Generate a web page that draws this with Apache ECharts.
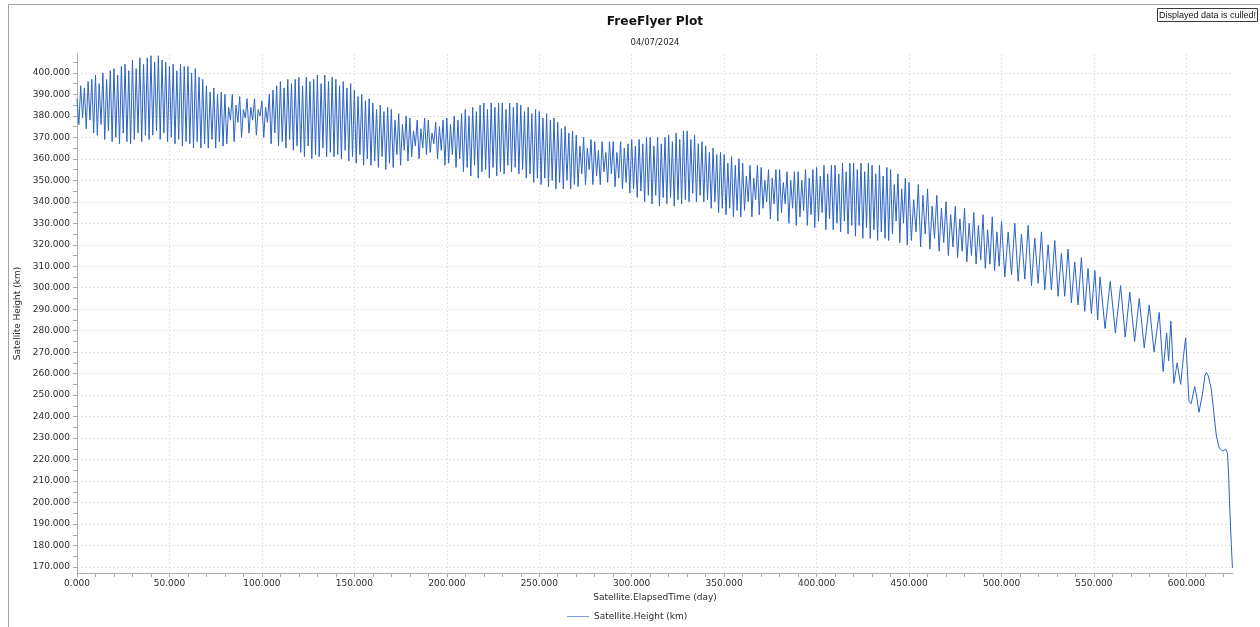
<!DOCTYPE html>
<html>
<head>
<meta charset="utf-8">
<title>FreeFlyer Plot</title>
<script src="https://cdn.jsdelivr.net/npm/echarts@6/dist/echarts.min.js"></script>
<style>
  html, body { margin: 0; padding: 0; background: #ffffff; }
  #chart { width: 1260px; height: 627px; }
</style>
</head>
<body>
<div id="chart"></div>
<script>
// Satellite height history, daily samples for the first 450 days
const dayPhase1 = [
  0,1,2,3,4,5,6,7,8,9, 10,11,12,13,14,15,16,17,18,19,
  20,21,22,23,24,25,26,27,28,29, 30,31,32,33,34,35,36,37,38,39,
  40,41,42,43,44,45,46,47,48,49, 50,51,52,53,54,55,56,57,58,59,
  60,61,62,63,64,65,66,67,68,69, 70,71,72,73,74,75,76,77,78,79,
  80,81,82,83,84,85,86,87,88,89, 90,91,92,93,94,95,96,97,98,99,
  100,101,102,103,104,105,106,107,108,109, 110,111,112,113,114,115,116,117,118,119,
  120,121,122,123,124,125,126,127,128,129, 130,131,132,133,134,135,136,137,138,139,
  140,141,142,143,144,145,146,147,148,149, 150,151,152,153,154,155,156,157,158,159,
  160,161,162,163,164,165,166,167,168,169, 170,171,172,173,174,175,176,177,178,179,
  180,181,182,183,184,185,186,187,188,189, 190,191,192,193,194,195,196,197,198,199,
  200,201,202,203,204,205,206,207,208,209, 210,211,212,213,214,215,216,217,218,219,
  220,221,222,223,224,225,226,227,228,229, 230,231,232,233,234,235,236,237,238,239,
  240,241,242,243,244,245,246,247,248,249, 250,251,252,253,254,255,256,257,258,259,
  260,261,262,263,264,265,266,267,268,269, 270,271,272,273,274,275,276,277,278,279,
  280,281,282,283,284,285,286,287,288,289, 290,291,292,293,294,295,296,297,298,299,
  300,301,302,303,304,305,306,307,308,309, 310,311,312,313,314,315,316,317,318,319,
  320,321,322,323,324,325,326,327,328,329, 330,331,332,333,334,335,336,337,338,339,
  340,341,342,343,344,345,346,347,348,349, 350,351,352,353,354,355,356,357,358,359,
  360,361,362,363,364,365,366,367,368,369, 370,371,372,373,374,375,376,377,378,379,
  380,381,382,383,384,385,386,387,388,389, 390,391,392,393,394,395,396,397,398,399,
  400,401,402,403,404,405,406,407,408,409, 410,411,412,413,414,415,416,417,418,419,
  420,421,422,423,424,425,426,427,428,429, 430,431,432,433,434,435,436,437,438,439,
  440,441,442,443,444,445,446,447,448,449
];
const heightPhase1 = [
  388,376,394,379,393,374,396,378,397,372, 399,371,395,376,400,369,397,373,401,368,
  402,370,399,367,403,372,404,368,401,367, 406,369,402,372,407,368,404,371,407,369,
  408,371,405,373,408,369,406,372,405,368, 403,370,404,367,401,369,404,366,403,368,
  403,367,400,365,402,368,398,365,397,367, 394,365,391,369,393,365,390,368,391,366,
  390,367,384,378,390,368,385,377,389,370, 383,379,388,372,384,378,388,371,383,380,
  387,370,384,377,390,367,392,372,394,366, 396,368,393,365,397,369,395,364,397,366,
  398,363,394,361,398,366,396,360,397,362, 399,361,395,365,399,361,396,363,398,361,
  397,362,394,360,396,364,393,359,395,361, 392,358,389,362,390,357,387,360,388,357,
  386,359,383,356,385,361,382,355,384,358, 383,356,378,362,381,357,376,364,380,359,
  379,361,373,366,378,360,374,365,379,362, 378,363,372,367,377,360,375,364,378,357,
  379,358,376,362,380,356,378,360,381,354, 383,356,380,352,384,357,382,351,385,354,
  386,355,383,351,386,356,384,352,386,354, 386,353,383,357,386,354,384,356,386,353,
  385,355,382,351,384,353,381,349,383,351, 382,348,379,351,381,347,378,350,379,346,
  377,349,374,346,375,350,372,346,373,348, 371,347,366,353,370,348,365,355,369,348,
  368,352,364,348,368,354,363,349,368,353, 368,347,363,351,368,346,365,349,367,344,
  369,346,366,342,369,345,367,340,370,343, 370,339,366,343,370,338,367,342,370,339,
  371,342,368,338,372,341,369,339,373,341, 373,340,369,344,371,340,367,343,368,340,
  366,341,363,337,365,340,362,335,363,337, 362,334,358,337,361,333,357,336,360,333,
  358,336,352,340,357,333,351,341,357,334, 356,337,350,340,355,332,351,339,355,331,
  355,335,349,339,354,330,350,337,354,329, 354,333,350,336,355,329,351,334,355,328,
  356,331,352,335,357,327,353,332,357,327, 357,330,353,326,358,331,354,325,358,329,
  358,324,355,329,358,323,354,328,358,323, 357,327,353,322,357,326,352,323,356,322,
  355,325,348,331,353,321,346,330,351,320
];

// Days 450 to 549: the oscillation slows down
const dayPhase2 = [
  450,451.25,452.5,453.75,455,456.25,457.5,458.75,460,461.25,
  462.5,463.75,465,466.25,467.5,468.75,470,471.25,472.5,473.75,
  475,476.25,477.5,478.75,480,481.25,482.5,483.75,485,486.25,
  487.5,488.75,490,491.25,492.5,493.75,495,496.25,497.5,498.75,
  500,501.8,503.6,505.4,507.2,509,510.8,512.6,514.4,516.2,
  518,519.8,521.6,523.4,525.2,527,528.8,530.6,532.4,534.2,
  536,537.8,539.6,541.4,543.2,545,546.8,548.6
];
const heightPhase2 = [
  349,322,341,326,348,319,343,325,346,318,
  338,323,343,317,337,321,340,315,334,319,
  338,314,332,317,337,312,330,315,335,311,
  329,313,334,309,327,311,333,308,326,310,
  331,305,326,306,330,303,325,304,329,301,
  323,302,326,299,320,299,322,296,316,296,
  318,293,312,292,314,289,309,288
];

// Final decay and re-entry
const dayDecay = [
  550.5,552,553.3,556,558.8,561.6,564.4,566.9,569.4,572,
  574.5,577.2,579.9,582.5,585.3,587.4,589.3,590.4,591.6,593.2,
  595,596.9,598.4,599.6,600.5,601.4,602.6,603.5,604.5,605.6,
  606.8,608.6,610,610.8,611.8,613.5,614.8,616.2,617.7,619.5,
  621.3,622.2,622.7,623.4,624.3,624.9
];
const heightDecay = [
  308,285,305,281,303,279,301,277,298,275,
  295,272,292,270,288.5,261,279,266,284.5,255.5,
  265,255,268,276.7,262,247,246,250,254,249,
  242,250,259,260.5,259,252.5,242,231,225.5,224,
  224.7,223,215.5,198.5,180,169.5
];

// Axis ticks and labels
const dayTicks = [0,50,100,150,200,250,300,350,400,450,500,550,600];
const dayMinorTicks = [
  0,10,20,30,40,50,60,70,80,90,100,110,120,130,140,150,160,170,180,190,
  200,210,220,230,240,250,260,270,280,290,300,310,320,330,340,350,360,370,380,390,
  400,410,420,430,440,450,460,470,480,490,500,510,520,530,540,550,560,570,580,590,
  600,610,620
];
const heightTicks = [170,180,190,200,210,220,230,240,250,260,270,280,290,300,310,320,330,340,350,360,370,380,390,400];
const heightMinorTicks = [
  170,175,180,185,190,195,200,205,210,215,220,225,230,235,240,245,250,255,260,265,
  270,275,280,285,290,295,300,305,310,315,320,325,330,335,340,345,350,355,360,365,
  370,375,380,385,390,395,400,405
];

const seriesName = 'Satellite.Height (km)';
const elapsedDay = dayPhase1.concat(dayPhase2, dayDecay);
const heightKm = heightPhase1.concat(heightPhase2, heightDecay);
const points = elapsedDay.map((d, i) => [d, heightKm[i]]);

const FONT = 'DejaVu Sans';
const TEXT = '#2b2b2b';
const AXIS = '#ababab';
const GRID = '#e3e3e3';
const fmt = v => Number(v).toFixed(3);

const chart = echarts.init(document.getElementById('chart'), null, { renderer: 'canvas' });
chart.setOption({
  animation: false,
  backgroundColor: '#ffffff',
  title: {
    text: 'FreeFlyer Plot',
    subtext: '04/07/2024',
    left: 655,
    textAlign: 'center',
    top: 16,
    padding: 0,
    itemGap: 10,
    textStyle: { fontFamily: FONT, fontSize: 12.2, fontWeight: 'bold', color: '#111' },
    subtextStyle: { fontFamily: FONT, fontSize: 8.5, color: TEXT }
  },
  legend: {
    data: [{ name: seriesName, icon: 'rect', itemStyle: { color: '#7d9edb' } }],
    left: 562,
    top: 607,
    itemWidth: 22,
    itemHeight: 1,
    itemGap: 10,
    textStyle: { fontFamily: FONT, fontSize: 9, color: TEXT }
  },
  grid: { left: 77, right: 27, top: 54, bottom: 54, containLabel: false },
  xAxis: [
    {
      type: 'value',
      min: 0,
      max: 625.2,
      name: 'Satellite.ElapsedTime (day)',
      nameLocation: 'middle',
      nameGap: 17,
      nameTextStyle: { fontFamily: FONT, fontSize: 9, color: TEXT },
      axisLine: { show: true, onZero: false, lineStyle: { color: AXIS, width: 1 } },
      axisTick: { show: true, customValues: dayTicks, length: 4, lineStyle: { color: AXIS } },
      axisLabel: { customValues: dayTicks, formatter: fmt, margin: 6, fontFamily: FONT, fontSize: 9, color: TEXT },
      splitLine: { show: true, lineStyle: { color: GRID, type: [2, 2], width: 1 } }
    },
    {
      type: 'value',
      min: 0,
      max: 625.2,
      position: 'bottom',
      axisLine: { show: false },
      axisTick: { show: true, customValues: dayMinorTicks, length: 4, lineStyle: { color: AXIS } },
      axisLabel: { show: false },
      splitLine: { show: false }
    }
  ],
  yAxis: [
    {
      type: 'value',
      min: 167.2,
      max: 408.8,
      name: 'Satellite Height (km)',
      nameLocation: 'middle',
      nameRotate: 90,
      nameGap: 47,
      nameTextStyle: { fontFamily: FONT, fontSize: 9, color: TEXT },
      axisLine: { show: true, onZero: false, lineStyle: { color: AXIS, width: 1 } },
      axisTick: { show: true, customValues: heightTicks, length: 4, lineStyle: { color: AXIS } },
      axisLabel: { customValues: heightTicks, formatter: fmt, margin: 7, fontFamily: FONT, fontSize: 9, color: TEXT },
      splitLine: { show: true, lineStyle: { color: GRID, type: [2, 2], width: 1 } }
    },
    {
      type: 'value',
      min: 167.2,
      max: 408.8,
      position: 'left',
      axisLine: { show: false },
      axisTick: { show: true, customValues: heightMinorTicks, length: 4, lineStyle: { color: AXIS } },
      axisLabel: { show: false },
      splitLine: { show: false }
    }
  ],
  series: [
    {
      name: seriesName,
      type: 'line',
      xAxisIndex: 0,
      yAxisIndex: 0,
      data: points,
      symbol: 'none',
      showSymbol: false,
      lineStyle: { color: '#2b63c7', width: 1 },
      itemStyle: { color: '#2b63c7' },
      emphasis: { disabled: true }
    }
  ],
  graphic: [
    { type: 'line', silent: true, shape: { x1: 8.5, y1: 4.5, x2: 1260, y2: 4.5 }, style: { stroke: '#a3a3a3', lineWidth: 1 } },
    { type: 'line', silent: true, shape: { x1: 8.5, y1: 4.5, x2: 8.5, y2: 627 }, style: { stroke: '#a3a3a3', lineWidth: 1 } },
    { type: 'rect', silent: true, shape: { x: 1157.5, y: 8.5, width: 100, height: 13 }, style: { fill: '#ffffff', stroke: '#3a3a3a', lineWidth: 1 } },
    { type: 'text', silent: true, x: 1207.5, y: 15.5, style: { text: 'Displayed data is culled!', fontFamily: 'Liberation Sans', fontSize: 9, fill: '#111', align: 'center', verticalAlign: 'middle' } }
  ]
});
</script>
</body>
</html>
